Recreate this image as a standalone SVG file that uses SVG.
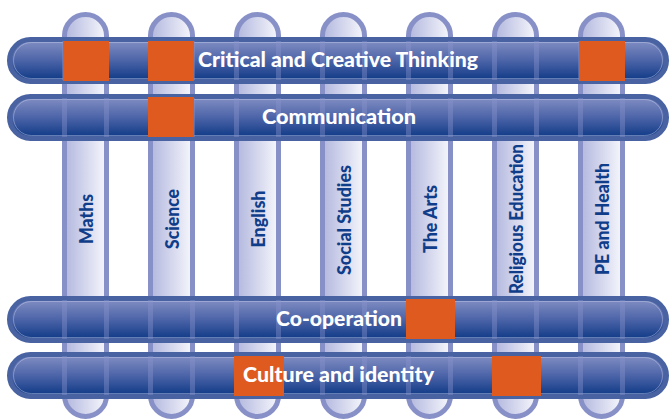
<svg xmlns="http://www.w3.org/2000/svg" width="671" height="419" viewBox="0 0 671 419">
  <defs>
    <linearGradient id="pillarFill" x1="0" y1="0" x2="1" y2="0">
      <stop offset="0" stop-color="#b2b7de"/>
      <stop offset="1" stop-color="#f6f7fc"/>
    </linearGradient>
    <linearGradient id="barFill" x1="0" y1="0" x2="0" y2="1">
      <stop offset="0" stop-color="#8490c4"/>
      <stop offset="0.5" stop-color="#4c64a8"/>
      <stop offset="1" stop-color="#0b3784"/>
    </linearGradient>
    <pattern id="stripes" patternUnits="userSpaceOnUse" x="62" y="0" width="86" height="419">
      <rect x="0" y="0" width="5" height="419" fill="#8a93cc" fill-opacity="0.4"/>
      <rect x="42" y="0" width="5" height="419" fill="#8a93cc" fill-opacity="0.4"/>
    </pattern>
  </defs>
  <style>
    .pillar { fill: url(#pillarFill); stroke: #8890c8; stroke-width: 5; }
    .bar { fill: url(#barFill); stroke: #4862a2; stroke-width: 5; }
    .hl { fill: none; stroke: #c4cdec; stroke-opacity: 0.45; stroke-width: 1; }
    .mark { fill: #df5a1e; }
    .over { fill: url(#stripes); }
    .subj { font-family: Lato, "Open Sans", "Liberation Sans", sans-serif; font-weight: 900; font-size: 18.5px; fill: #103d89; text-anchor: middle; }
    .cap { font-family: Lato, "Open Sans", "Liberation Sans", sans-serif; font-weight: 900; font-size: 21.5px; fill: #ffffff; text-anchor: middle; }
  </style>

  <g id="pillars">
    <g id="pillar-maths">
      <rect class="pillar" x="64.5" y="14.5" width="42" height="402" rx="21"/>
      <text class="subj" transform="translate(92.5,219) rotate(-90)" textLength="50" lengthAdjust="spacingAndGlyphs">Maths</text>
    </g>
    <g id="pillar-science">
      <rect class="pillar" x="150.5" y="14.5" width="42" height="402" rx="21"/>
      <text class="subj" transform="translate(178.5,219) rotate(-90)" textLength="60" lengthAdjust="spacingAndGlyphs">Science</text>
    </g>
    <g id="pillar-english">
      <rect class="pillar" x="236.5" y="14.5" width="42" height="402" rx="21"/>
      <text class="subj" transform="translate(264.5,219) rotate(-90)" textLength="57" lengthAdjust="spacingAndGlyphs">English</text>
    </g>
    <g id="pillar-social">
      <rect class="pillar" x="322.5" y="14.5" width="42" height="402" rx="21"/>
      <text class="subj" transform="translate(350.5,220) rotate(-90)" textLength="110" lengthAdjust="spacingAndGlyphs">Social Studies</text>
    </g>
    <g id="pillar-arts">
      <rect class="pillar" x="408.5" y="14.5" width="42" height="402" rx="21"/>
      <text class="subj" transform="translate(436.5,219) rotate(-90)" textLength="68" lengthAdjust="spacingAndGlyphs">The Arts</text>
    </g>
    <g id="pillar-religious">
      <rect class="pillar" x="494.5" y="14.5" width="42" height="402" rx="21"/>
      <text class="subj" transform="translate(522.5,219) rotate(-90)" textLength="150" lengthAdjust="spacingAndGlyphs">Religious Education</text>
    </g>
    <g id="pillar-pe">
      <rect class="pillar" x="580.5" y="14.5" width="42" height="402" rx="21"/>
      <text class="subj" transform="translate(608.5,219) rotate(-90)" textLength="112" lengthAdjust="spacingAndGlyphs">PE and Health</text>
    </g>
  </g>

  <g id="bars">
    <g id="bar-critical">
      <rect class="bar" x="9.5" y="39.5" width="657" height="42" rx="21"/>
      <rect class="hl" x="13.5" y="42.5" width="649" height="36" rx="18"/>
      <rect class="over" x="60" y="41" width="570" height="39"/>
      <rect class="mark" x="63" y="41" width="46" height="40"/>
      <rect class="mark" x="148" y="41" width="46" height="40"/>
      <rect class="mark" x="579" y="41" width="46" height="40"/>
      <text class="cap" x="338" y="66.5" textLength="280" lengthAdjust="spacingAndGlyphs">Critical and Creative Thinking</text>
    </g>
    <g id="bar-communication">
      <rect class="bar" x="9.5" y="96.5" width="657" height="42" rx="21"/>
      <rect class="hl" x="13.5" y="99.5" width="649" height="36" rx="18"/>
      <rect class="over" x="60" y="98" width="570" height="39"/>
      <rect class="mark" x="148" y="97" width="46" height="40"/>
      <text class="cap" x="339" y="123.5" textLength="154" lengthAdjust="spacingAndGlyphs">Communication</text>
    </g>
    <g id="bar-cooperation">
      <rect class="bar" x="9.5" y="298.5" width="657" height="42" rx="21"/>
      <rect class="hl" x="13.5" y="301.5" width="649" height="36" rx="18"/>
      <rect class="over" x="60" y="300" width="570" height="39"/>
      <rect class="mark" x="406" y="299" width="49" height="40"/>
      <text class="cap" x="339" y="325.5" textLength="126" lengthAdjust="spacingAndGlyphs">Co-operation</text>
    </g>
    <g id="bar-culture">
      <rect class="bar" x="9.5" y="354.5" width="657" height="42" rx="21"/>
      <rect class="hl" x="13.5" y="357.5" width="649" height="36" rx="18"/>
      <rect class="over" x="60" y="356" width="570" height="39"/>
      <rect class="mark" x="234" y="356" width="50" height="40"/>
      <rect class="mark" x="492" y="356" width="49" height="40"/>
      <text class="cap" x="338.5" y="381.5" textLength="191" lengthAdjust="spacingAndGlyphs">Culture and identity</text>
    </g>
  </g>
</svg>
